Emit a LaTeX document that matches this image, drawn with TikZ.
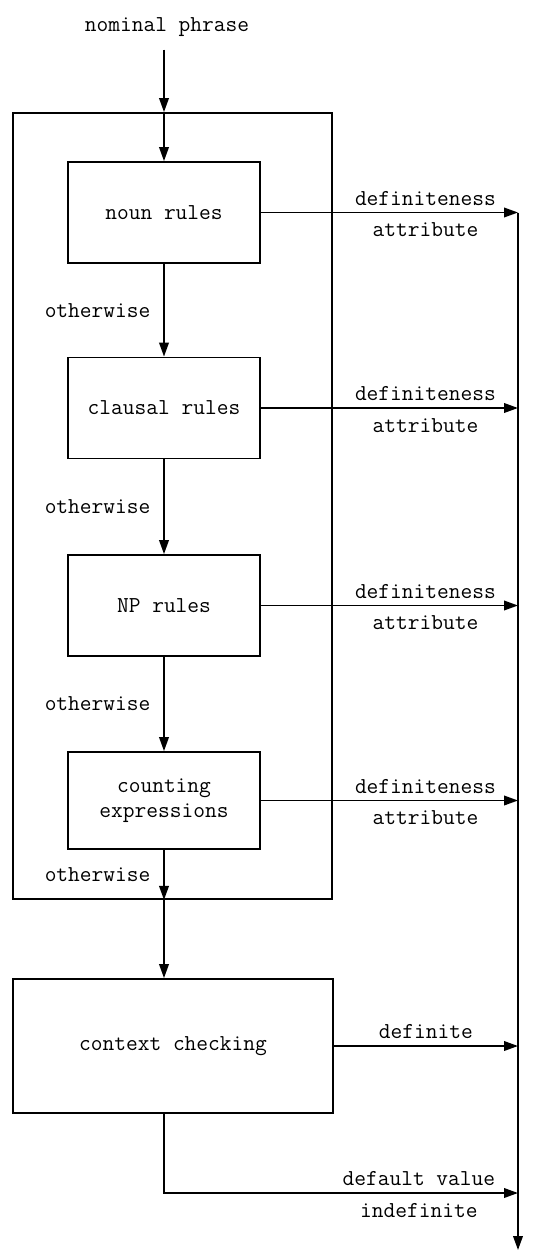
\documentclass[tikz,border=0pt]{standalone}
\usepackage{tikz}
\usetikzlibrary{arrows.meta}
\usetikzlibrary{calc}
\usetikzlibrary{positioning}
\tikzset{
    lbl/.style={
        font=\ttfamily\fontsize{11.4}{12.6}\selectfont
    },
    rule box/.style={
        lbl,
        draw,
        line width=0.9pt,
        align=center,
        minimum width=96pt,
        minimum height=50.5pt
    },
    flow/.style={
        line width=0.9pt,
        -{Triangle[length=7pt,width=4.8pt]}
    }
}
\begin{document}
\begin{tikzpicture}[x=0.5pt,y=-0.5pt]
  \useasboundingbox (0,0) rectangle (540,1252);
  \node[lbl] (phrase) at (167,27) {nominal phrase};
  \node[draw,line width=0.9pt,minimum width=159.5pt,minimum height=393pt] (outer) at (172.5,506) {};
  \node[rule box] (noun) at (164,212.5) {noun rules};
  \node[rule box] (clausal) at (164,408) {clausal rules};
  \node[rule box] (np) at (164,605.5) {NP rules};
  \node[rule box,minimum height=48.5pt] (count) at (164,800.5) {counting\\expressions};
  \node[rule box,minimum width=160pt,minimum height=67pt] (context) at (173,1046) {context checking};
  \coordinate (rail top) at (518,212.5);
  \coordinate (rail end) at (518,1250);
  \coordinate (default in) at (518,1193);
  % input
  \draw[flow,shorten <=3pt] (phrase.south -| noun.north) -- (noun.north |- outer.north);
  \draw[flow] (noun.north |- outer.north) -- (noun.north);
  % rule cascade
  \foreach \a/\b in {noun/clausal,clausal/np,np/count}
    \draw[flow] (\a.south) -- node[lbl,left=3pt] (ow-\a) {otherwise} (\b.north);
  \draw[flow] (count.south) -- node[lbl,left=3pt] (ow-count) {otherwise} (count.south |- outer.south);
  \draw[flow] (count.south |- outer.south) -- (count.south |- context.north);
  % results
  \foreach \b in {noun,clausal,np,count}{
    \draw[flow] (\b.east) -- (\b.east -| rail top);
    \path (\b.east -| outer.east) -- node[lbl,above] (def-\b) {definiteness}
      node[lbl,below=1.5pt] (attr-\b) {attribute} (\b.east -| rail top);
  }
  \draw[flow] (context.east) -- (context.east -| rail top);
  \path (context.east) -- node[lbl,above] (def-ctx) {definite} (context.east -| rail top);
  \draw[flow] (count.south |- context.south) |- (default in);
  \path (count.south |- context.south) |- node[lbl,above,pos=0.86] (dv) {default value}
    node[lbl,below=1.5pt,pos=0.86] (indef) {indefinite} (default in);
  \draw[flow] (rail top) -- (rail end);
\end{tikzpicture}
\end{document}
